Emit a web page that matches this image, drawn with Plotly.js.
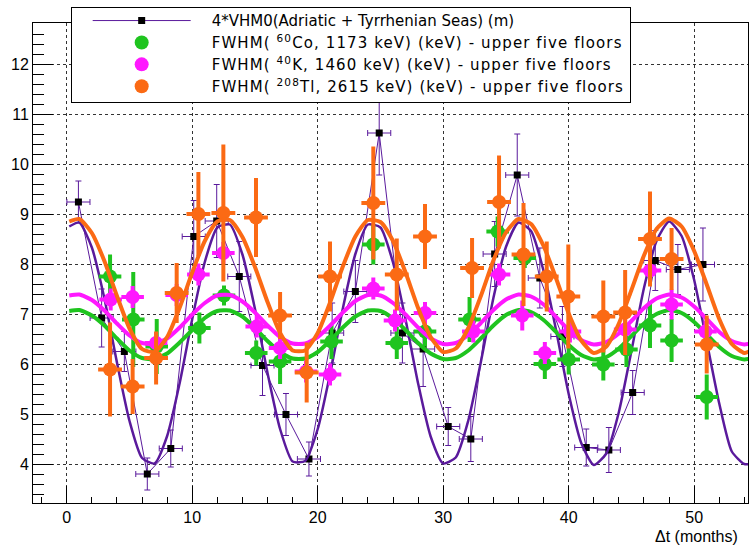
<!DOCTYPE html>
<html>
<head>
<meta charset="utf-8">
<script src="https://cdn.plot.ly/plotly-3.0.1.min.js"></script>
<style>
html,body{margin:0;padding:0;background:#fff;}
#plot{width:749px;height:547px;}
.legendtext{letter-spacing:1.1px;}
</style>
</head>
<body>
<div id="plot"></div>
<script>
// 4*VHM0 (Adriatic + Tyrrhenian Seas)
const vhmX  = [0.93, 2.78, 4.59, 6.42, 8.29, 10.12, 11.95, 13.75, 15.6, 17.47, 19.3, 21.15, 23.0, 24.9, 26.75, 28.4, 30.4, 32.2, 34.1, 35.9, 37.7, 39.5, 41.4, 43.2, 45.1, 46.9, 48.7, 50.7];
const vhmY  = [9.24, 6.92, 6.25, 3.80, 4.31, 8.55, 8.86, 7.75, 5.97, 4.99, 4.10, 6.62, 7.45, 10.62, 6.62, 6.30, 4.75, 4.50, 8.20, 9.78, 7.72, 6.55, 4.33, 4.28, 5.43, 8.07, 7.89, 7.99];
const vhmEy = [0.42, 0.58, 0.40, 0.32, 0.37, 0.72, 0.73, 0.70, 0.60, 0.42, 0.34, 0.60, 0.62, 0.84, 0.60, 0.75, 0.38, 0.45, 0.65, 0.82, 0.60, 0.60, 0.37, 0.45, 0.44, 0.60, 0.50, 0.73];
const vhmEx = [0.92, 0.92, 0.92, 0.92, 0.92, 0.92, 0.92, 0.92, 0.92, 0.92, 0.92, 0.92, 0.92, 0.92, 0.92, 0.92, 0.92, 0.92, 0.92, 0.92, 0.92, 0.92, 0.92, 0.92, 0.92, 0.92, 0.92, 0.92];

// FWHM 60Co 1173 keV
const coX  = [3.45, 5.3, 7.17, 10.57, 12.53, 15.1, 17.0, 21.1, 24.43, 26.3, 28.55, 32.1, 34.34, 36.5, 38.1, 40.0, 42.76, 44.6, 46.48, 48.2, 51.0];
const coY  = [7.75, 6.89, 6.35, 6.72, 7.37, 6.22, 6.05, 6.45, 8.39, 6.42, 6.65, 6.89, 8.65, 8.12, 6.00, 6.09, 5.99, 6.29, 6.77, 6.47, 5.34];
const coEy = [0.44, 0.95, 0.55, 0.31, 0.20, 0.25, 0.45, 0.35, 0.40, 0.32, 0.30, 0.45, 0.30, 0.20, 0.30, 0.30, 0.32, 0.35, 0.45, 0.43, 0.45];
const coEx = [0.9, 0.9, 0.9, 0.9, 0.9, 0.9, 0.9, 0.9, 0.9, 0.9, 0.9, 0.9, 0.9, 0.9, 0.9, 0.9, 0.9, 0.9, 0.9, 0.9, 0.9];

// FWHM 40K 1460 keV
const kX  = [3.5, 5.25, 7.12, 8.76, 10.49, 12.48, 15.14, 17.0, 19.07, 20.98, 24.43, 26.16, 28.55, 32.4, 34.45, 36.3, 38.1, 40.1, 44.5, 46.48, 48.2, 50.9];
const kY  = [7.29, 7.34, 6.42, 7.38, 7.79, 8.22, 6.75, 6.32, 5.85, 5.79, 7.51, 6.87, 7.02, 6.65, 7.79, 6.97, 6.22, 6.65, 6.69, 7.87, 7.19, 6.65];
const kEy = [0.22, 0.22, 0.22, 0.22, 0.22, 0.22, 0.22, 0.22, 0.22, 0.22, 0.22, 0.22, 0.22, 0.22, 0.22, 0.30, 0.22, 0.22, 0.22, 0.22, 0.30, 0.22];
const kEx = [0.9, 0.9, 0.9, 0.9, 0.9, 0.9, 0.9, 0.9, 0.9, 0.9, 0.9, 0.9, 0.9, 0.9, 0.9, 0.9, 0.9, 0.9, 0.9, 0.9, 0.9, 0.9];

// FWHM 208Tl 2615 keV
const tlX  = [3.45, 5.25, 7.12, 8.76, 10.49, 12.48, 15.08, 17.0, 19.12, 20.98, 24.43, 26.3, 28.55, 32.3, 34.45, 36.4, 38.25, 39.97, 42.76, 44.5, 46.48, 48.2, 51.0];
const tlY  = [5.89, 5.55, 6.12, 7.42, 9.00, 9.02, 8.93, 6.97, 5.83, 7.75, 9.22, 7.79, 8.55, 7.92, 9.24, 8.19, 7.75, 7.35, 6.95, 7.03, 8.50, 8.10, 6.39];
const tlEy = [0.94, 0.55, 0.53, 0.60, 0.84, 1.37, 0.79, 0.47, 0.60, 0.70, 1.13, 0.72, 0.65, 0.60, 0.93, 1.03, 0.70, 1.04, 0.72, 0.85, 0.95, 0.62, 0.58];
const tlEx = [0.95, 0.95, 0.95, 0.95, 0.95, 0.95, 0.95, 0.95, 0.95, 0.95, 0.95, 0.95, 0.95, 0.95, 0.95, 0.95, 0.95, 0.95, 0.95, 0.95, 0.95, 0.95, 0.95];

// fitted curves
const fitX   = [0.2, 1, 2, 3, 4, 5, 6, 7, 8, 9, 10, 11, 12, 13, 14, 15, 16, 17, 18, 19, 20, 21, 22, 23, 24, 25, 26, 27, 28, 29, 30, 31, 32, 33, 34, 35, 36, 37, 38, 39, 40, 41, 42, 43, 44, 45, 46, 47, 48, 49, 50, 51, 52, 53, 54, 54.5];
const fitVHM = [8.75, 8.83, 8.33, 7.31, 6.03, 4.86, 4.12, 4.01, 4.56, 5.62, 6.90, 8.04, 8.73, 8.79, 8.19, 7.10, 5.82, 4.70, 4.05, 4.06, 4.70, 5.82, 7.11, 8.20, 8.79, 8.73, 8.03, 6.89, 5.61, 4.55, 4.01, 4.13, 4.87, 6.04, 7.32, 8.34, 8.83, 8.66, 7.86, 6.67, 5.40, 4.42, 3.98, 4.21, 5.04, 6.26, 7.52, 8.46, 8.85, 8.56, 7.68, 6.45, 5.21, 4.25, 4.00, 4.00];
const fitCo  = [7.06, 7.08, 6.97, 6.77, 6.51, 6.27, 6.12, 6.10, 6.21, 6.43, 6.68, 6.92, 7.06, 7.07, 6.95, 6.72, 6.46, 6.24, 6.11, 6.11, 6.24, 6.47, 6.73, 6.95, 7.07, 7.06, 6.91, 6.68, 6.42, 6.21, 6.10, 6.12, 6.27, 6.51, 6.77, 6.98, 7.08, 7.04, 6.88, 6.64, 6.38, 6.18, 6.09, 6.14, 6.31, 6.56, 6.81, 7.00, 7.08, 7.02, 6.84, 6.59, 6.34, 6.16, 6.09, 6.11];
const fitK   = [7.37, 7.39, 7.28, 7.07, 6.81, 6.57, 6.42, 6.40, 6.51, 6.73, 6.99, 7.22, 7.37, 7.38, 7.25, 7.03, 6.77, 6.54, 6.41, 6.41, 6.54, 6.77, 7.03, 7.26, 7.38, 7.37, 7.22, 6.99, 6.73, 6.51, 6.40, 6.42, 6.58, 6.82, 7.08, 7.29, 7.39, 7.35, 7.19, 6.94, 6.68, 6.48, 6.39, 6.44, 6.61, 6.86, 7.12, 7.31, 7.39, 7.33, 7.15, 6.90, 6.64, 6.46, 6.39, 6.41];
const fitTl  = [8.85, 8.90, 8.62, 8.06, 7.36, 6.71, 6.30, 6.24, 6.54, 7.13, 7.83, 8.46, 8.85, 8.88, 8.54, 7.94, 7.24, 6.62, 6.27, 6.27, 6.62, 7.24, 7.95, 8.55, 8.88, 8.84, 8.46, 7.83, 7.12, 6.54, 6.24, 6.31, 6.72, 7.36, 8.07, 8.63, 8.90, 8.80, 8.36, 7.71, 7.01, 6.47, 6.22, 6.35, 6.81, 7.48, 8.17, 8.70, 8.91, 8.75, 8.26, 7.59, 6.90, 6.40, 6.22, 6.27];

const names = [
  '4*VHM0(Adriatic + Tyrrhenian Seas) (m)',
  'FWHM( <sup>60</sup>Co, 1173 keV) (keV) - upper five floors',
  'FWHM( <sup>40</sup>K, 1460 keV) (keV) - upper five floors',
  'FWHM( <sup>208</sup>Tl, 2615 keV) (keV) - upper five floors'
];

const cPurple = '#5a1a9c', cGreen = '#1fc41f', cMag = '#ff18ff', cOrange = '#fb6a14';
const FONT = 'Liberation Sans, Arial, sans-serif';

function dataTrace(x, y, ey, ex, color, name) {
  return {
    x: x, y: y, type: 'scatter', mode: 'markers', name: name,
    marker: {color: color, size: 14, symbol: 'circle'},
    error_y: {type: 'data', array: ey, visible: true, color: color, thickness: 4, width: 0},
    error_x: {type: 'data', array: ex, visible: true, color: color, thickness: 4, width: 0}
  };
}
function fitTrace(y, color, w) {
  return {x: fitX, y: y, type: 'scatter', mode: 'lines', showlegend: false, hoverinfo: 'skip',
          line: {color: color, width: w, shape: 'spline', smoothing: 0.6}};
}

const traces = [
  {
    x: vhmX, y: vhmY, type: 'scatter', mode: 'lines+markers', name: names[0],
    line: {color: cPurple, width: 1},
    marker: {color: '#000', size: 7, symbol: 'square'},
    error_y: {type: 'data', array: vhmEy, visible: true, color: cPurple, thickness: 1, width: 3},
    error_x: {type: 'data', array: vhmEx, visible: true, color: cPurple, thickness: 1, width: 3}
  },
  fitTrace(fitVHM, cPurple, 2.5),
  dataTrace(coX, coY, coEy, coEx, cGreen, names[1]),
  fitTrace(fitCo, cGreen, 4),
  dataTrace(kX, kY, kEy, kEx, cMag, names[2]),
  fitTrace(fitK, cMag, 4),
  dataTrace(tlX, tlY, tlEy, tlEx, cOrange, names[3]),
  fitTrace(fitTl, cOrange, 4)
];

const axisCommon = {
  showline: true, linecolor: '#000', linewidth: 1, mirror: true,
  showgrid: true, gridcolor: '#333', griddash: 'dot', gridwidth: 1,
  zeroline: false, ticks: 'inside', tickcolor: '#000', tickwidth: 1,
  tickfont: {family: FONT, size: 16, color: '#000'}
};

const layout = {
  width: 749, height: 547,
  margin: {l: 33, r: 1, t: 23, b: 44, pad: 0},
  paper_bgcolor: '#fff', plot_bgcolor: '#fff',
  font: {family: FONT, color: '#000'},
  showlegend: true,
  legend: {
    x: 0.0527, y: 1.0327, xanchor: 'left', yanchor: 'top',
    bgcolor: '#fff', bordercolor: '#000', borderwidth: 1,
    font: {size: 15, family: 'DejaVu Sans, sans-serif', color: '#000'},
    itemwidth: 130, tracegroupgap: 0
  },
  xaxis: Object.assign({}, axisCommon, {
    range: [-2.69, 54.29], dtick: 10, tick0: 0, ticklen: 17,
    minor: {dtick: 2, tick0: 0, ticks: 'inside', ticklen: 6, tickcolor: '#000', showgrid: false}
  }),
  yaxis: Object.assign({}, axisCommon, {
    range: [3.22, 12.82], dtick: 1, tick0: 0, ticklen: 20,
    minor: {dtick: 0.2, tick0: 0, ticks: 'inside', ticklen: 11, tickcolor: '#000', showgrid: false}
  }),
  annotations: [{
    text: '\u0394t (months)', xref: 'paper', yref: 'paper', x: 0.989, y: -0.07,
    xanchor: 'right', yanchor: 'middle', showarrow: false,
    font: {size: 16, family: FONT, color: '#000'}
  }]
};

Plotly.newPlot('plot', traces, layout, {displayModeBar: false, staticPlot: true}).then(function () {
  const items = document.querySelectorAll('#plot .legend .traces');
  if (!items.length) return;
  // first legend row: long line through the marker, tighter text
  const g = items[0];
  let mx = 20;
  const pt = g.querySelector('.legendpoints .scatterpts');
  if (pt && pt.getAttribute('transform')) {
    const m = /translate\(\s*([-\d.]+)/.exec(pt.getAttribute('transform'));
    if (m) mx = parseFloat(m[1]);
  }
  const ln = g.querySelector('.legendlines path');
  if (ln) ln.setAttribute('d', 'M' + (mx - 49) + ',0h98');
  const t0 = g.querySelector('.legendtext');
  if (t0) t0.style.letterSpacing = '0px';
  // slightly tighter rows, as in the original legend box
  items.forEach(function (it, i) {
    const m = /translate\(\s*([-\d.]+)[ ,]+([-\d.]+)/.exec(it.getAttribute('transform') || '');
    if (m) it.setAttribute('transform', 'translate(' + m[1] + ',' + (parseFloat(m[2]) - 4 - i * 0.6) + ')');
  });
  const bg = document.querySelector('#plot .legend rect.bg');
  if (bg && bg.getAttribute('height')) bg.setAttribute('height', parseFloat(bg.getAttribute('height')) - 6);
});
</script>
</body>
</html>
